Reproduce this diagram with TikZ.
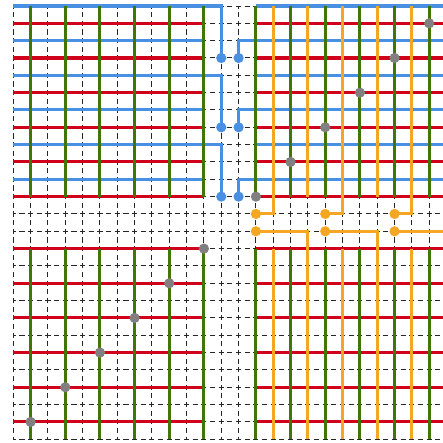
\documentclass[tikz,border=0pt]{standalone}
\definecolor{cblue}{HTML}{4A90E2}
\definecolor{cred}{HTML}{D0021B}
\definecolor{cgreen}{HTML}{417505}
\definecolor{corange}{HTML}{F5A623}
\definecolor{cgray}{HTML}{808080}
\tikzset{
  gridline/.style={black!85, line width=0.8pt, dash pattern=on 4.2pt off 2.913pt, dash phase=2.1pt},
  wire/.style={line width=2.5pt},
  bluewire/.style={wire, draw=cblue},
  redwire/.style={wire, draw=cred},
  greenwire/.style={wire, draw=cgreen},
  orangewire/.style={wire, draw=corange},
  dot/.style={circle, inner sep=0pt, minimum size=8.4pt, draw=none},
  bluedot/.style={dot, fill=cblue},
  orangedot/.style={dot, fill=corange},
  graydot/.style={dot, fill=cgray},
}
\begin{document}
\begin{tikzpicture}[x=0.5cm,y=-0.5cm]
\useasboundingbox (-0.7675,-0.346) rectangle (24.795,25.217);
\clip (-0.7675,-0.346) rectangle (24.795,25.217);

% dot positions
\coordinate (bA1) at (12,3);  \coordinate (bB1) at (13,3);
\coordinate (bA2) at (12,7);  \coordinate (bB2) at (13,7);
\coordinate (bA3) at (12,11); \coordinate (bB3) at (13,11);
\coordinate (oA1) at (14,12); \coordinate (oB1) at (14,13);
\coordinate (oA2) at (18,12); \coordinate (oB2) at (18,13);
\coordinate (oA3) at (22,12); \coordinate (oB3) at (22,13);
\coordinate (oEnd1) at (17,25);
\coordinate (oEnd2) at (21,25);
\coordinate (oEnd3) at (25,25);

% dashed background grid
\foreach \r in {0,...,25} \draw[gridline] (0,\r) -- (25,\r);
\foreach \c in {0,...,24} \draw[gridline] (\c,0) -- (\c,25);

% ---------- horizontals ----------
% top-left
\foreach \r in {1,3,...,11} \draw[redwire] (0,\r) -- (11,\r);
\foreach \r in {2,6,10} \draw[bluewire] (0,\r) -- (11,\r);
\draw[bluewire] (0,0) -| (bA1);
\draw[bluewire] (0,4) -| (bA2);
\draw[bluewire] (0,8) -| (bA3);
% top-right
\foreach \r in {1,3,...,11} \draw[redwire] (14,\r) -- (25,\r);
\foreach \r in {0,4,8} \draw[bluewire] (14,\r) -- (25,\r);
\draw[bluewire] (bB1) |- (25,2);
\draw[bluewire] (bB2) |- (25,6);
\draw[bluewire] (bB3) |- (25,10);
% bottom-left
\foreach \r in {14,16,...,24} \draw[redwire] (0,\r) -- (11,\r);
% bottom-right
\foreach \r in {14,16,...,24} \draw[redwire] (14,\r) -- (25,\r);

% ---------- verticals ----------
\foreach \c in {1,3,...,11} \draw[greenwire] (\c,0) -- (\c,11);
\foreach \c in {14,16,...,24} \draw[greenwire] (\c,0) -- (\c,11);
\foreach \c in {1,3,...,11} \draw[greenwire] (\c,14) -- (\c,25);
\foreach \c in {14,16,...,24} \draw[greenwire] (\c,14) -- (\c,25);

\foreach \c in {17,21} \draw[orangewire] (\c,0) -- (\c,11);
\draw[orangewire] (15,0) |- (oA1);
\draw[orangewire] (19,0) |- (oA2);
\draw[orangewire] (23,0) |- (oA3);
\foreach \c in {15,19,23} \draw[orangewire] (\c,14) -- (\c,25);
\draw[orangewire] (oB1) -| (oEnd1);
\draw[orangewire] (oB2) -| (oEnd2);
\draw[orangewire] (oB3) -| (oEnd3);

% ---------- dots ----------
\foreach \n in {bA1,bB1,bA2,bB2,bA3,bB3} \node[bluedot] (d\n) at (\n) {};
\foreach \n in {oA1,oB1,oA2,oB2,oA3,oB3} \node[orangedot] (d\n) at (\n) {};
\foreach \c/\r [count=\i] in {24/1,22/3,20/5,18/7,16/9,14/11}
  \node[graydot] (gT\i) at (\c,\r) {};
\foreach \c/\r [count=\i] in {11/14,9/16,7/18,5/20,3/22,1/24}
  \node[graydot] (gB\i) at (\c,\r) {};
\end{tikzpicture}
\end{document}
